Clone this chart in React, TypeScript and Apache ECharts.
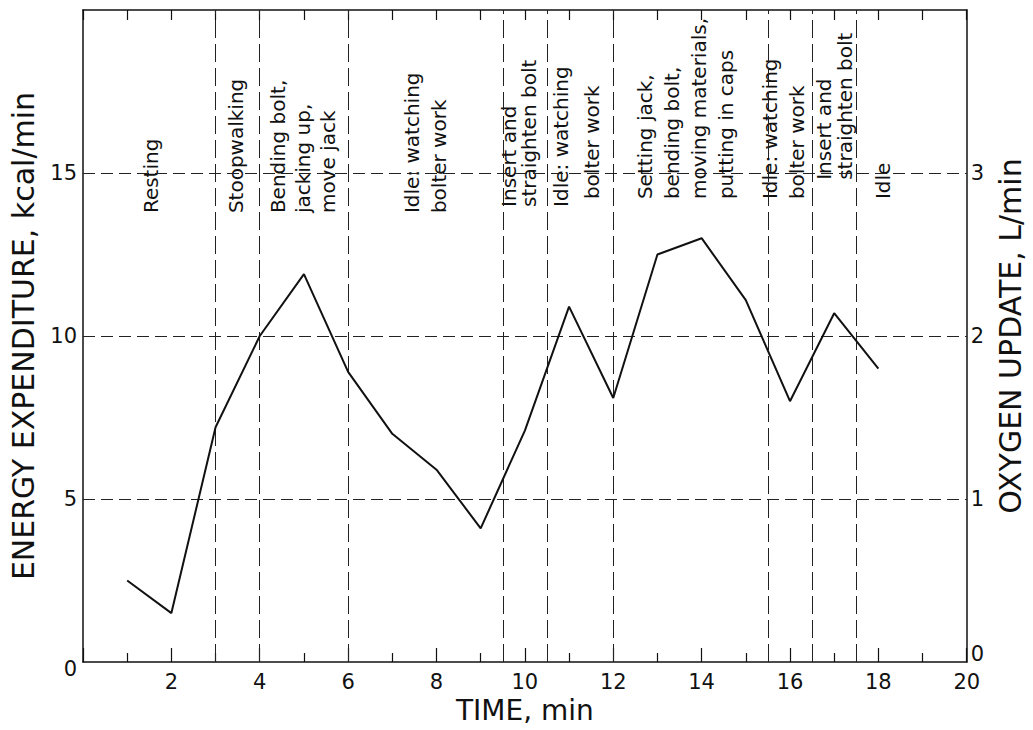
import React, { useEffect, useRef } from "react";
import * as echarts from "echarts";

// ---- data ----
const times = [1, 2, 3, 4, 5, 6, 7, 8, 9, 10, 11, 12, 13, 14, 15, 16, 17, 18];
const energy = [2.5, 1.5, 7.2, 10, 11.9, 8.9, 7, 5.9, 4.1, 7.1, 10.9, 8.1, 12.5, 13, 11.1, 8, 10.7, 9];
const phaseBoundaries = [3, 4, 6, 9.5, 10.5, 12, 15.5, 16.5, 17.5];
const energyGridValues = [5, 10, 15];
const activityLabels = [
  ["Resting"],
  ["Stoopwalking"],
  ["Bending bolt,", "jacking up,", "move jack"],
  ["Idle: watching", "bolter work"],
  ["Insert and", "straighten bolt"],
  ["Idle: watching"],
  ["bolter work"],
  ["Setting jack,", "bending bolt,", "moving materials,", "putting in caps"],
  ["Idle: watching", "bolter work"],
  ["Insert and", "straighten bolt"],
  ["Idle"],
];
// anchor of each label in data coordinates: [time (block centre), energy (text start)]
const activityAnchors = [
  [1.55, 13.77],
  [3.46, 13.77],
  [4.97, 13.77],
  [7.76, 13.77],
  [9.87, 13.96],
  [10.81, 13.96],
  [11.51, 14.2],
  [13.63, 14.2],
  [15.85, 14.2],
  [17.0, 14.79],
  [18.11, 14.2],
];
const activityLineHeights = [25, 25, 25, 27, 20, 25, 25, 27, 27, 21, 25];

const FONT = "DejaVu Sans";
const INK = "#111";

export default function App() {
  const ref = useRef<HTMLDivElement>(null);
  useEffect(() => {
    if (!ref.current) return;
    const chart = echarts.init(ref.current, null, { renderer: "svg" });
    const axisLineStyle = { color: INK, width: 1.5 };
    const option: any = {
      animation: false,
      backgroundColor: "#fff",
      grid: { left: 81, right: 62, top: 10, bottom: 68, containLabel: false },
      xAxis: [
        {
          type: "value",
          min: 0,
          max: 20,
          interval: 2,
          position: "bottom",
          name: "TIME, min",
          nameLocation: "middle",
          nameGap: 34,
          nameTextStyle: { fontSize: 28, fontFamily: FONT, color: INK },
          axisLine: { show: true, onZero: false, lineStyle: axisLineStyle },
          axisTick: { show: true, inside: true, length: 14, lineStyle: { color: INK, width: 1.2 } },
          minorTick: { show: true, splitNumber: 2, length: 9, lineStyle: { color: INK, width: 1.2 } },
          axisLabel: {
            formatter: (v: number) => (v === 0 ? "" : String(v)),
            fontSize: 21,
            fontFamily: FONT,
            color: INK,
            margin: 9,
          },
          splitLine: { show: false },
        },
        {
          type: "value",
          min: 0,
          max: 20,
          interval: 1,
          position: "top",
          axisLine: { show: true, onZero: false, lineStyle: axisLineStyle },
          axisTick: { show: true, inside: true, length: 10, lineStyle: { color: INK, width: 1.2 } },
          axisLabel: { show: false },
          splitLine: { show: false },
        },
      ],
      yAxis: [
        {
          type: "value",
          min: 0,
          max: 20,
          interval: 5,
          position: "left",
          name: "ENERGY EXPENDITURE, kcal/min",
          nameLocation: "middle",
          nameRotate: 90,
          nameGap: 45,
          nameTextStyle: { fontSize: 30, fontFamily: FONT, color: INK },
          axisLine: { show: true, onZero: false, lineStyle: axisLineStyle },
          axisTick: { show: false },
          axisLabel: {
            formatter: (v: number) => (v === 20 ? "" : v === 0 ? "{low|0}" : String(v)),
            fontSize: 21,
            fontFamily: FONT,
            color: INK,
            margin: 6,
            rich: { low: { fontSize: 21, fontFamily: FONT, color: INK, padding: [14, 0, 0, 0] } },
          },
          splitLine: { show: false },
        },
        {
          type: "value",
          min: 0,
          max: 4,
          interval: 1,
          position: "right",
          name: "OXYGEN UPDATE, L/min",
          nameLocation: "middle",
          nameRotate: 90,
          nameGap: 24,
          nameTextStyle: { fontSize: 30, fontFamily: FONT, color: INK },
          axisLine: { show: true, onZero: false, lineStyle: axisLineStyle },
          axisTick: { show: false },
          axisLabel: {
            formatter: (v: number) => (v === 4 ? "" : v === 0 ? "{high|0}" : String(v)),
            fontSize: 21,
            fontFamily: FONT,
            color: INK,
            margin: 4,
            rich: { high: { fontSize: 21, fontFamily: FONT, color: INK, padding: [0, 0, 16, 0] } },
          },
          splitLine: { show: false },
        },
      ],
      series: [
        {
          type: "line",
          xAxisIndex: 0,
          yAxisIndex: 0,
          data: times.map((t, i) => [t, energy[i]]),
          showSymbol: false,
          symbol: "none",
          lineStyle: { color: INK, width: 2 },
          z: 5,
          markLine: {
            silent: true,
            symbol: ["none", "none"],
            label: { show: false },
            lineStyle: { color: "#222", width: 1 },
            data: [
              ...phaseBoundaries.map((x) => ({ xAxis: x, lineStyle: { type: [18, 6], color: "#222", width: 1 } })),
              ...energyGridValues.map((y) => ({ yAxis: y, lineStyle: { type: [12, 6], color: "#222", width: 1 } })),
            ],
          },
        },
      ],
    };
    chart.setOption(option);

    const graphics = activityLabels.map((lines, i) => {
      const [px, py] = chart.convertToPixel({ gridIndex: 0 }, activityAnchors[i]) as number[];
      return {
        type: "text",
        x: px,
        y: py,
        rotation: Math.PI / 2,
        silent: true,
        style: {
          text: lines.join("\n"),
          fontSize: 20,
          fontFamily: FONT,
          fill: INK,
          align: "left",
          verticalAlign: "middle",
          lineHeight: activityLineHeights[i],
        },
      };
    });
    chart.setOption({ graphic: graphics });

    return () => chart.dispose();
  }, []);

  return (
    <div
      ref={ref}
      style={{ position: "absolute", left: 0, top: 0, width: 1033, height: 730, background: "#fff" }}
    />
  );
}
